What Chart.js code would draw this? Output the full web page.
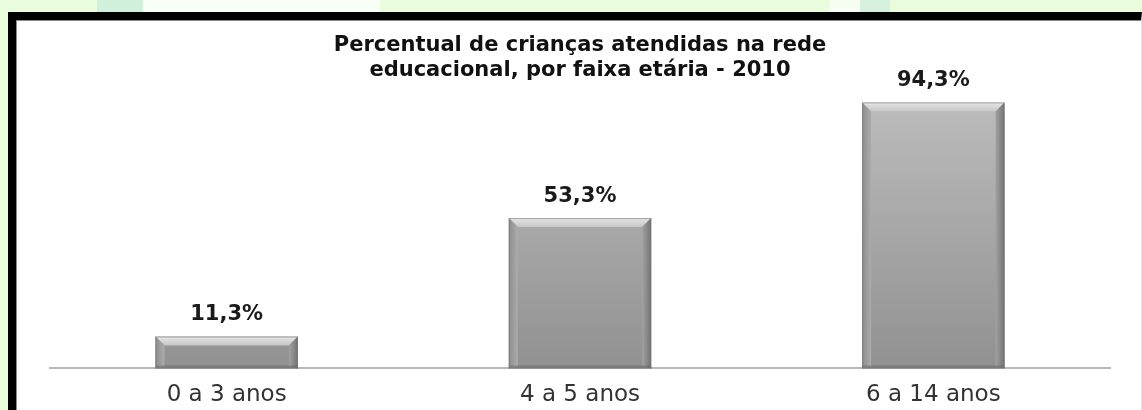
<!DOCTYPE html>
<html>
<head>
<meta charset="utf-8">
<script src="https://cdn.jsdelivr.net/npm/chart.js@4"></script>
<style>
  body {
    margin: 0;
    width: 1142px;
    height: 410px;
    overflow: hidden;
    background: linear-gradient(90deg, #e9fcdc 0px, #e9fcdc 97px, #d2f1dc 97px, #d2f1dc 143px, #f8fff4 143px, #f8fff4 380px,
      #e9fcdc 380px, #e9fcdc 830px, #f6fff2 830px, #f6fff2 860px, #d6f2dc 860px, #d6f2dc 890px, #e9fcdc 890px);
  }
  #frame {
    position: absolute;
    left: 8px;
    top: 12px;
    width: 1125px;
    height: 408px;
    border-left: 8px solid #000;
    border-top: 8px solid #000;
    border-right: 1px solid #e2e2e2;
    background: #fff;
    box-shadow: inset 1px 1px 0 #8a8a8a;
  }
  #chart {
    position: absolute;
    left: 0;
    top: 0;
  }
</style>
</head>
<body>
<div id="frame">
  <canvas id="chart" width="1125" height="408"></canvas>
</div>
<script>
const categories = ["0 a 3 anos", "4 a 5 anos", "6 a 14 anos"];
const percentValues = [11.3, 53.3, 94.3];
const valueLabels = ["11,3%", "53,3%", "94,3%"];
const titleLines = ["Percentual de crianças atendidas na rede", "educacional, por faixa etária - 2010"];

// bar fill: light top, darker bottom
function barFill(context) {
  const chart = context.chart;
  const area = chart.chartArea;
  if (!area) return "#a8a8a8";
  const g = chart.ctx.createLinearGradient(0, area.top, 0, area.bottom);
  g.addColorStop(0, "#bebebe");
  g.addColorStop(1, "#919191");
  return g;
}

// bevel edges and value labels above the bars
const bevelPlugin = {
  id: "bevel",
  afterDatasetsDraw(chart) {
    const ctx = chart.ctx;
    const meta = chart.getDatasetMeta(0);
    meta.data.forEach((bar, i) => {
      const left = bar.x - bar.width / 2;
      const right = bar.x + bar.width / 2;
      const top = bar.y;
      const bottom = bar.base;
      const b = Math.min(9, (bottom - top) / 2.5);
      ctx.save();
      // top bevel
      let g = ctx.createLinearGradient(0, top, 0, top + b);
      g.addColorStop(0, "#e6e6e6");
      g.addColorStop(1, "#c6c6c6");
      ctx.fillStyle = g;
      ctx.beginPath();
      ctx.moveTo(left, top);
      ctx.lineTo(right, top);
      ctx.lineTo(right - b, top + b);
      ctx.lineTo(left + b, top + b);
      ctx.closePath();
      ctx.fill();
      // left bevel
      g = ctx.createLinearGradient(left, 0, left + b, 0);
      g.addColorStop(0, "#8c8c8c");
      g.addColorStop(1, "#acacac");
      ctx.fillStyle = g;
      ctx.beginPath();
      ctx.moveTo(left, top);
      ctx.lineTo(left + b, top + b);
      ctx.lineTo(left + b, bottom - 2);
      ctx.lineTo(left, bottom);
      ctx.closePath();
      ctx.fill();
      // right bevel
      g = ctx.createLinearGradient(right - b, 0, right, 0);
      g.addColorStop(0, "#a2a2a2");
      g.addColorStop(1, "#727272");
      ctx.fillStyle = g;
      ctx.beginPath();
      ctx.moveTo(right, top);
      ctx.lineTo(right - b, top + b);
      ctx.lineTo(right - b, bottom - 2);
      ctx.lineTo(right, bottom);
      ctx.closePath();
      ctx.fill();
      // bottom shade
      ctx.fillStyle = "rgba(90,90,90,0.35)";
      ctx.fillRect(left, bottom - 3, bar.width, 3);
      // outline
      ctx.strokeStyle = "rgba(120,120,120,0.6)";
      ctx.lineWidth = 1;
      ctx.strokeRect(left + 0.5, top + 0.5, bar.width - 1, bottom - top - 1);
      // value label
      ctx.fillStyle = "#1a1a1a";
      ctx.font = "bold 21px 'DejaVu Sans'";
      ctx.textAlign = "center";
      ctx.textBaseline = "bottom";
      ctx.fillText(valueLabels[i], bar.x, top - 11);
      ctx.restore();
    });
  }
};

new Chart(document.getElementById("chart"), {
  type: "bar",
  data: {
    labels: categories,
    datasets: [{
      label: "Percentual",
      data: percentValues,
      backgroundColor: barFill,
      borderWidth: 0,
      categoryPercentage: 1,
      barPercentage: 0.403
    }]
  },
  options: {
    responsive: false,
    animation: false,
    events: [],
    layout: { padding: { left: 34, right: 31, bottom: 14, top: 0 } },
    plugins: {
      legend: { display: false },
      tooltip: { enabled: false },
      title: {
        display: true,
        text: titleLines,
        color: "#111",
        font: { family: "'DejaVu Sans'", size: 21, weight: "bold", lineHeight: 1.2 },
        padding: { top: 13, bottom: 3 }
      }
    },
    scales: {
      x: {
        grid: { display: false },
        border: { display: true, color: "#b8b8b8", width: 2 },
        ticks: {
          color: "#333",
          font: { family: "'DejaVu Sans'", size: 23 },
          padding: 5
        }
      },
      y: {
        display: false,
        min: 0,
        max: 100
      }
    }
  },
  plugins: [bevelPlugin]
});
</script>
</body>
</html>
